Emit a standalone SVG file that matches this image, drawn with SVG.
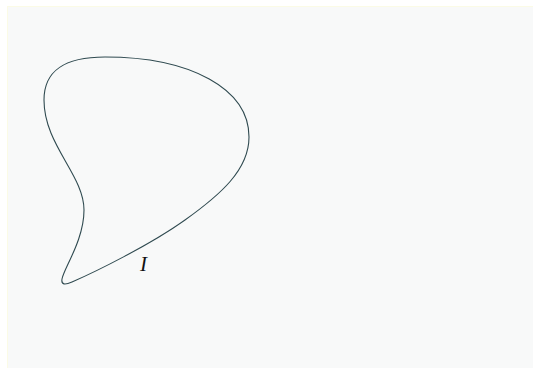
<svg xmlns="http://www.w3.org/2000/svg" width="533" height="368" viewBox="0 0 533 368">
<style>
.curve{fill:none;stroke:#2f4a50;stroke-width:1.1}
.lbl{font-family:"Liberation Serif","DejaVu Serif",serif;font-style:italic;font-size:21px;fill:#111}
</style>
<rect x="0" y="0" width="533" height="368" fill="#ffffff"/>
<rect x="7.5" y="6.5" width="530" height="370" fill="#f8f9f9" stroke="#fbfbe6" stroke-width="1"/>
<g id="region-I">
<path class="curve" d="M 72,282 C 65,285 61,285 62,279 C 64,268 84,240 84,210 C 84,175 44,145 44,100 C 44,70 65,57 105,57 C 191,57 249,89 249,137 C 249,170 220,195 185,220 C 150,245 95,272 72,282 Z"/>
<text class="lbl" x="140" y="271">I</text>
</g>
</svg>
